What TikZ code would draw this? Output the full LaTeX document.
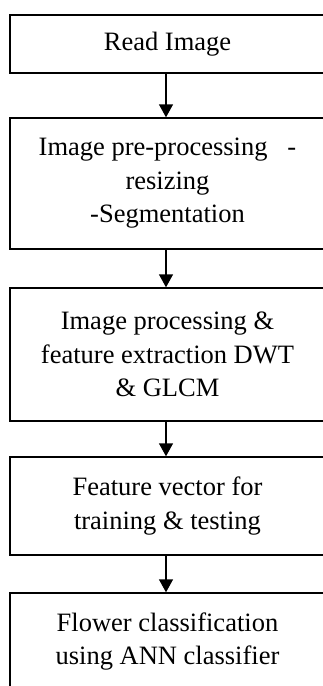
\documentclass[tikz,border=0pt]{standalone}
\usepackage{fontspec}
\setmainfont{Liberation Serif}
\usepackage{tikz}
\usetikzlibrary{arrows.meta,positioning}

\tikzset{
  stagebox/.style={draw,line width=1.4pt,minimum width=315pt,align=center,
    inner sep=0pt,font=\fontsize{26.5}{33.5}\selectfont},
  flowarrow/.style={-{Triangle[width=14pt,length=13pt]},line width=1.4pt}
}

\begin{document}
\begin{tikzpicture}[x=1pt,y=-1pt]
  \useasboundingbox (0,0) rectangle (323,686);
  % stages (right edge runs past the picture)
  \node[stagebox,minimum height=58pt] (read) at (167.5,44) {Read Image};
  \node[stagebox,minimum height=131pt] (preproc) at (167.5,183.5)
    {Image pre-processing\ \ \ -\\resizing\\-Segmentation};
  \node[stagebox,minimum height=133pt] (feature) at (167.5,354.5)
    {Image processing \&\\feature extraction DWT\\\& GLCM};
  \node[stagebox,minimum height=98pt] (vector) at (167.5,506)
    {Feature vector for\\training \& testing};
  \node[stagebox,minimum height=97pt] (classify) at (167.5,641.5)
    {Flower classification\\using ANN classifier};
  % connectors
  \draw[flowarrow] ([xshift=-1.5pt]read.south) -- ([xshift=-1.5pt]preproc.north);
  \draw[flowarrow] ([xshift=-1.5pt]preproc.south) -- ([xshift=-1.5pt]feature.north);
  \draw[flowarrow] ([xshift=-1.5pt]feature.south) -- ([xshift=-1.5pt]vector.north);
  \draw[flowarrow] ([xshift=-1.5pt]vector.south) -- ([xshift=-1.5pt]classify.north);
\end{tikzpicture}
\end{document}
